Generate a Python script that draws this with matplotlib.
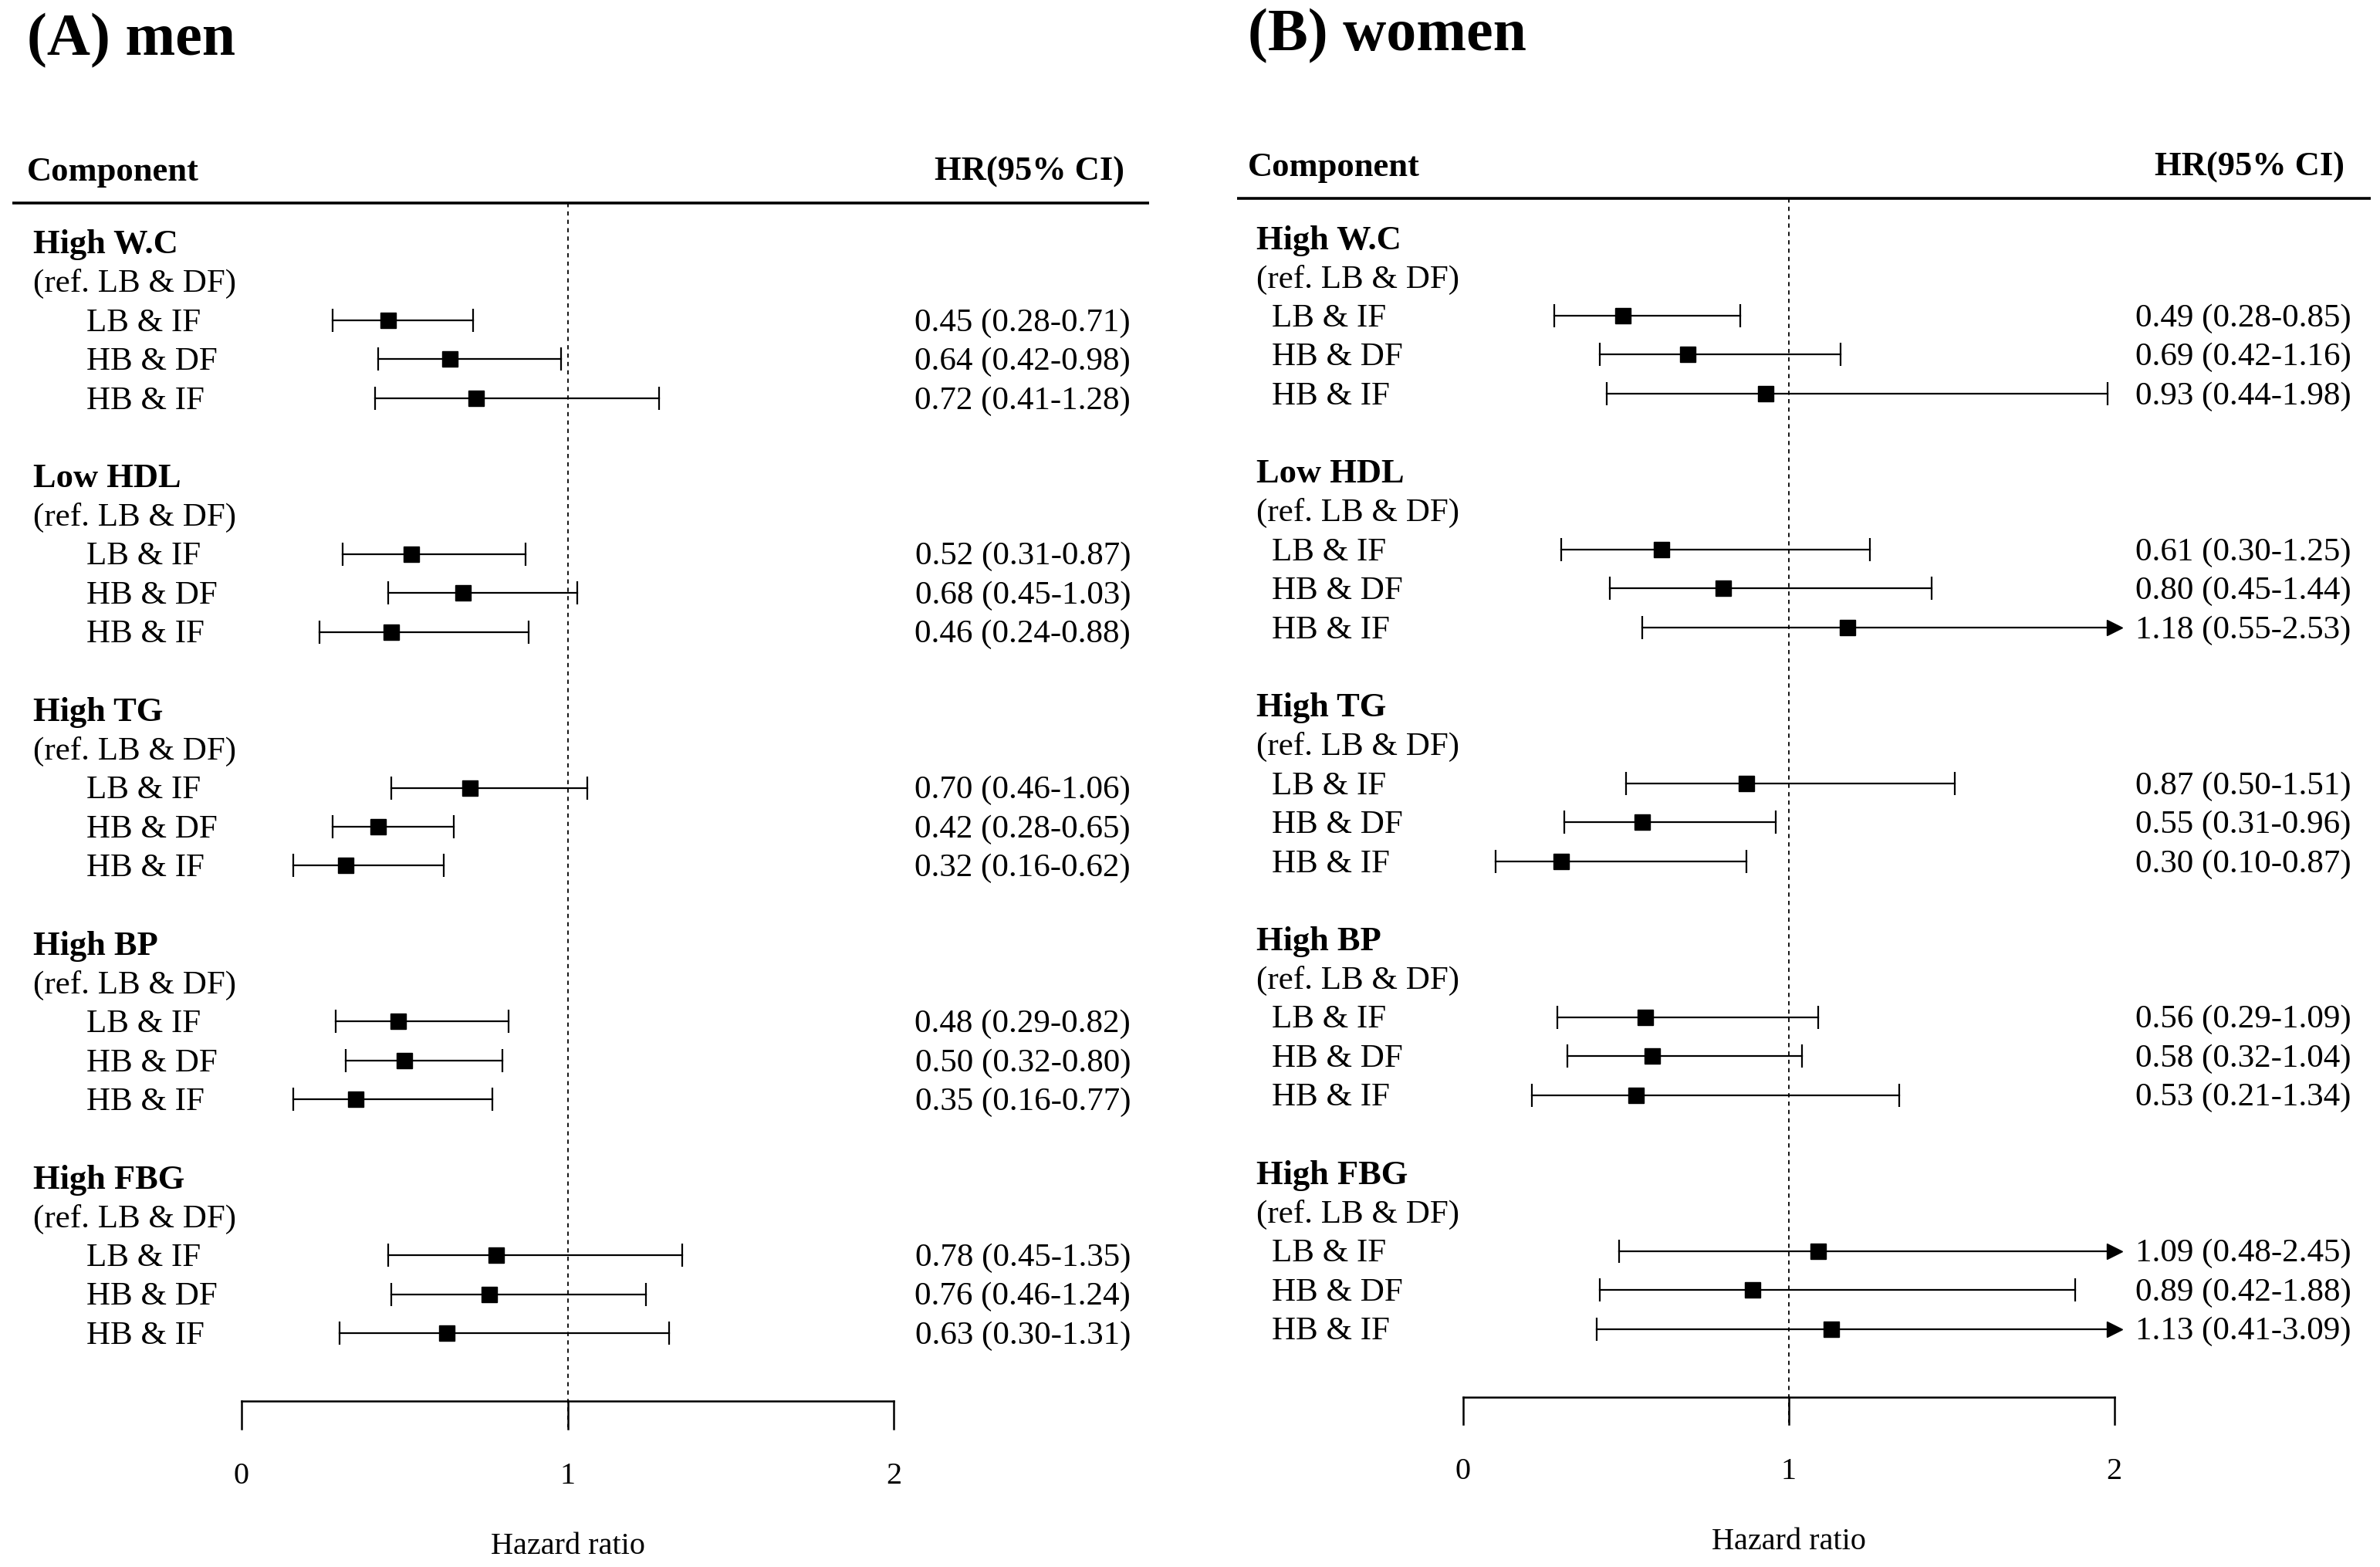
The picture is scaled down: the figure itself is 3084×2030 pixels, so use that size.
import numpy as np
import matplotlib.pyplot as plt

plt.rcParams['font.family'] = ['Liberation Serif', 'DejaVu Serif']

groups = ["High W.C", "Low HDL", "High TG", "High BP", "High FBG"]
items = ["LB & IF", "HB & DF", "HB & IF"]
ref_label = "(ref. LB & DF)"

men_hr = np.array([[0.45, 0.64, 0.72], [0.52, 0.68, 0.46], [0.70, 0.42, 0.32],
                   [0.48, 0.50, 0.35], [0.78, 0.76, 0.63]])
men_lo = np.array([[0.28, 0.42, 0.41], [0.31, 0.45, 0.24], [0.46, 0.28, 0.16],
                   [0.29, 0.32, 0.16], [0.45, 0.46, 0.30]])
men_hi = np.array([[0.71, 0.98, 1.28], [0.87, 1.03, 0.88], [1.06, 0.65, 0.62],
                   [0.82, 0.80, 0.77], [1.35, 1.24, 1.31]])

women_hr = np.array([[0.49, 0.69, 0.93], [0.61, 0.80, 1.18], [0.87, 0.55, 0.30],
                     [0.56, 0.58, 0.53], [1.09, 0.89, 1.13]])
women_lo = np.array([[0.28, 0.42, 0.44], [0.30, 0.45, 0.55], [0.50, 0.31, 0.10],
                     [0.29, 0.32, 0.21], [0.48, 0.42, 0.41]])
women_hi = np.array([[0.85, 1.16, 1.98], [1.25, 1.44, 2.53], [1.51, 0.96, 0.87],
                     [1.09, 1.04, 1.34], [2.45, 1.88, 3.09]])

ticks = [0, 1, 2]
xmax = 2

fig = plt.figure(figsize=(30.84, 20.31), dpi=100)


def draw_panel(ax, title, hr, lo, hi, xlim, ylim, xg, xi, xc, xr, xl):
    ax.set_xlim(*xlim)
    ax.set_ylim(*ylim)
    ax.axis('off')
    fs = 31
    ax.text(xc, -5.2, title, fontsize=56, fontweight='bold', va='center', ha='left')
    ax.text(xc, -1.82, "Component", fontsize=32, fontweight='bold', va='center', ha='left')
    ax.text(xr - 0.02, -1.82, "HR(95% CI)", fontsize=32, fontweight='bold', va='center', ha='right')
    ax.plot(xl, [-1.01, -1.01], color='black', lw=2.6, solid_capstyle='butt')
    ax.plot([1, 1], [-1.01, 30.41], color='black', lw=1.3, ls=(0, (3, 3)))

    for g, name in enumerate(groups):
        y0 = g * 6
        ax.text(xg, y0 + 0.05, name, fontsize=32, fontweight='bold', va='center', ha='left')
        ax.text(xg, y0 + 1.05, ref_label, fontsize=fs, va='center', ha='left')
        for k, it in enumerate(items):
            y = y0 + 2 + k
            h, l, u = hr[g, k], lo[g, k], hi[g, k]
            ax.text(xi, y + 0.05, it, fontsize=fs, va='center', ha='left')
            ax.text(xr, y + 0.05, f"{h:.2f} ({l:.2f}-{u:.2f})", fontsize=fs, va='center', ha='right')
            right = min(u, xmax)
            ax.plot([l, right], [y, y], color='black', lw=1.6)
            ax.plot([l], [y], marker='|', ms=22, mew=1.6, color='black')
            if u > xmax:
                ax.plot([xmax], [y], marker='>', ms=14, color='black')
            else:
                ax.plot([u], [y], marker='|', ms=22, mew=1.6, color='black')
            ax.plot([h], [y], marker='s', ms=14, color='black')

    ax.plot([ticks[0], ticks[-1]], [29.75, 29.75], color='black', lw=1.8)
    for t in ticks:
        ax.plot([t, t], [29.75, 30.45], color='black', lw=1.8)
        ax.text(t, 31.65, str(t), fontsize=29, va='center', ha='center')
    ax.text(1, 33.45, "Hazard ratio", fontsize=29, va='center', ha='center')


ylim = (34.0, -6.238)
ax1 = fig.add_axes([0, 0, 0.5, 1])
draw_panel(ax1, "(A) men", men_hr, men_lo, men_hi,
           (-0.7395, 2.907), ylim,
           xg=-0.637, xi=-0.474, xc=-0.656, xr=2.725, xl=[-0.702, 2.781])

ax2 = fig.add_axes([0.5, 0, 0.5, 1])
draw_panel(ax2, "(B) women", women_hr, women_lo, women_hi,
           (-0.839, 2.816), (34.11, -6.121),
           xg=-0.634, xi=-0.587, xc=-0.662, xr=2.727, xl=[-0.695, 2.788])

fig.savefig("out.png", dpi=100)
